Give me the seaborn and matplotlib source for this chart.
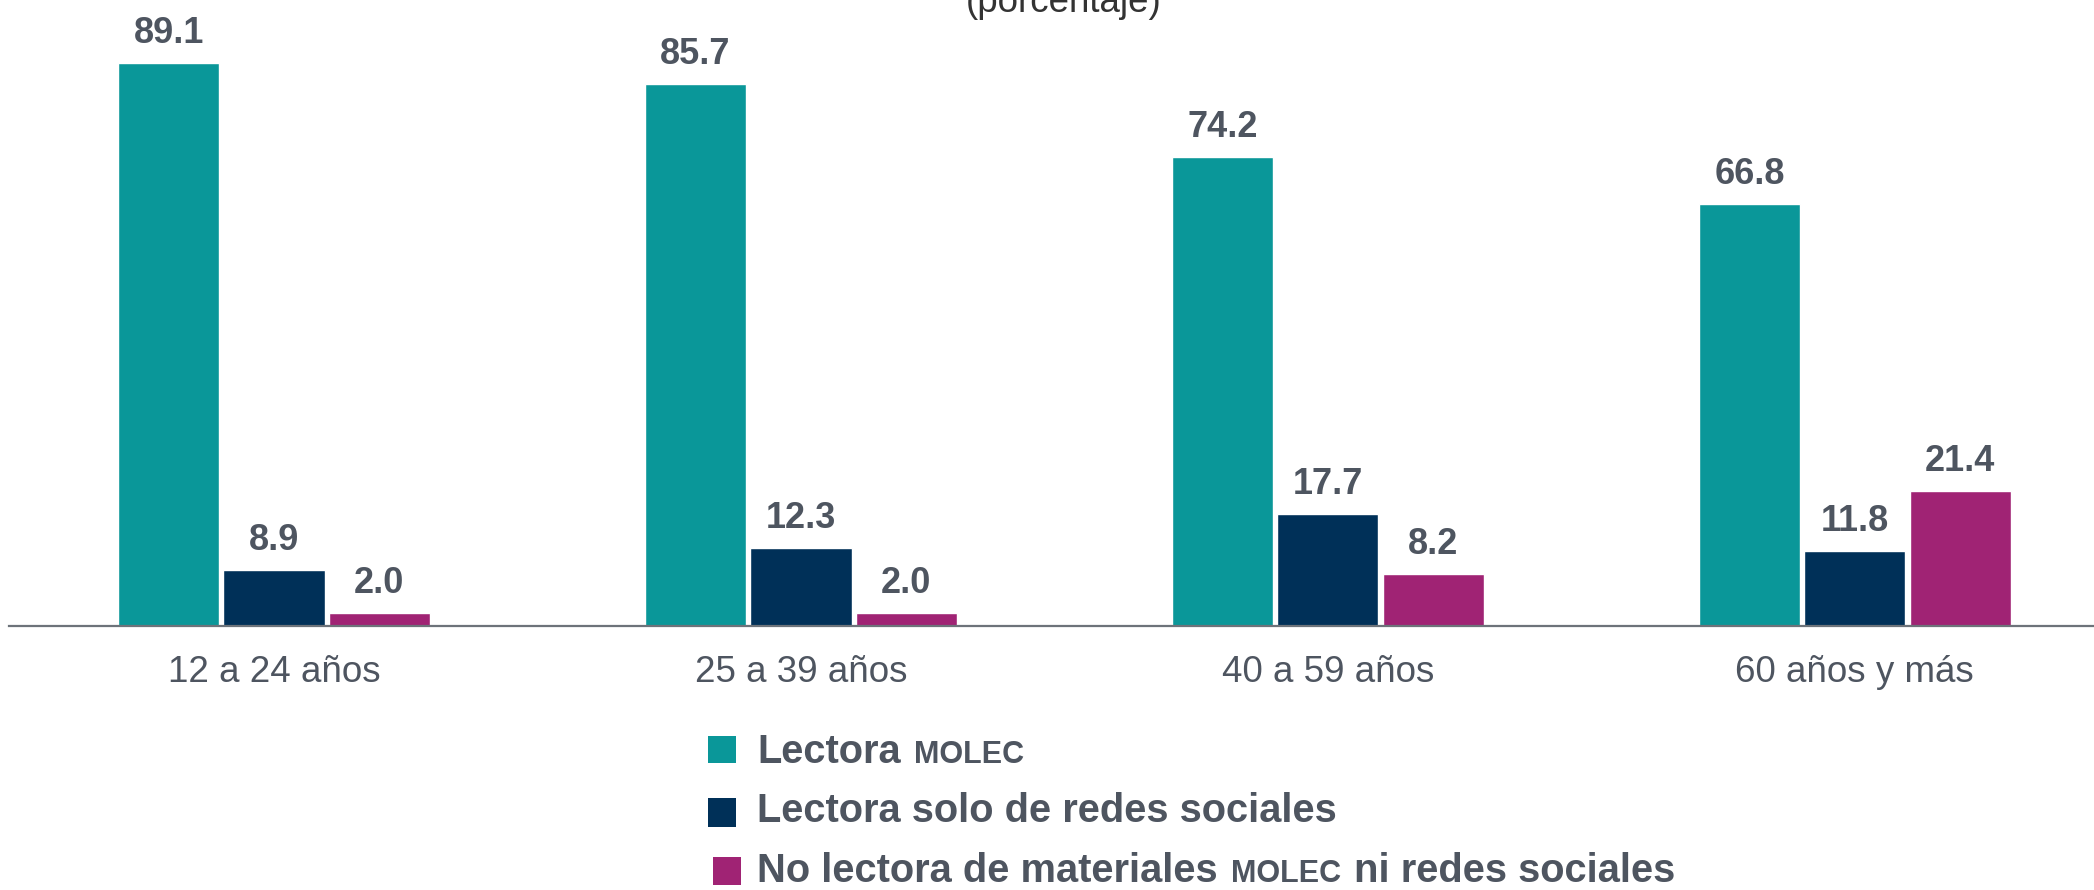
import matplotlib
matplotlib.use("Agg")
import matplotlib.pyplot as plt
import seaborn as sns
import pandas as pd
from matplotlib.patches import Rectangle

# ---------------- data ----------------
categories = ["12 a 24 años", "25 a 39 años", "40 a 59 años", "60 años y más"]
series_names = [
    "Lectora MOLEC",
    "Lectora solo de redes sociales",
    "No lectora de materiales MOLEC ni redes sociales",
]
lectora_molec = [89.1, 85.7, 74.2, 66.8]
solo_redes = [8.9, 12.3, 17.7, 11.8]
no_lectora = [2.0, 2.0, 8.2, 21.4]
colors = ["#0A9799", "#003058", "#A02374"]

# legend rows: (text pieces, small-caps flags)
legend_rows = [
    [("Lectora", False), ("MOLEC", True)],
    [("Lectora solo de redes sociales", False)],
    [("No lectora de materiales", False), ("MOLEC", True), ("ni redes sociales", False)],
]

rows = []
for s, vals in zip(series_names, [lectora_molec, solo_redes, no_lectora]):
    for c, v in zip(categories, vals):
        rows.append({"grupo": c, "serie": s, "pct": v})
df = pd.DataFrame(rows)

# ---------------- figure ----------------
sns.set_theme(style="white")
plt.rcParams["font.family"] = ["Liberation Sans", "DejaVu Sans"]

W, H = 2094, 890
fig = plt.figure(figsize=(W / 100, H / 100), dpi=100)
ax = fig.add_axes([9 / W, 1 - 626 / H, 1 - 9 / W, 626 / H])

sns.barplot(
    data=df, x="grupo", y="pct", hue="serie", hue_order=series_names,
    order=categories, palette=colors, width=0.6, gap=0.04,
    saturation=1, legend=False, ax=ax,
)

ax.set_xlim(-0.503, 3.454)
ax.set_ylim(0, 626 / 6.32)
ax.set_xlabel("")
ax.set_ylabel("")
ax.set_yticks([])
for side in ["left", "right", "top"]:
    ax.spines[side].set_visible(False)
ax.spines["bottom"].set_color("#6D737A")
ax.spines["bottom"].set_linewidth(1.6)
ax.tick_params(axis="x", length=0, pad=21, labelsize=26.5, labelcolor="#4E5560")
ax.patch.set_alpha(0)

label_color = "#4E5560"
for cont in ax.containers:
    for bar in cont:
        h = bar.get_height()
        ax.annotate(
            f"{h:.1f}", (bar.get_x() + bar.get_width() / 2, h),
            xytext=(0, 14.5), textcoords="offset points",
            ha="center", va="baseline", fontsize=26, fontweight="bold",
            color=label_color, clip_on=False,
        )

# title fragment (clipped at the top of the image)
fig.text(1064 / W, 1 - 12 / H, "(porcentaje)", ha="center", va="baseline",
         fontsize=26.5, color="#333333")

# ---------------- legend ----------------
fig.canvas.draw()
renderer = fig.canvas.get_renderer()
baselines = [763, 822, 882]
squares = [(708, 736, 763), (708, 798, 827), (713, 857, 885)]
text_x0 = 757
gap = 13
for i, (row, base) in enumerate(zip(legend_rows, baselines)):
    sx, st, sb = squares[i]
    fig.patches.append(Rectangle((sx / W, 1 - sb / H), 28 / W, (sb - st) / H,
                                 transform=fig.transFigure, facecolor=colors[i],
                                 edgecolor="none", figure=fig))
    x = text_x0
    for txt, small in row:
        t = fig.text(x / W, 1 - base / H, txt, ha="left", va="baseline",
                     fontsize=22 if small else 28.7, fontweight="bold",
                     color=label_color)
        bb = t.get_window_extent(renderer)
        x += bb.width + gap

fig.savefig("out.png", dpi=100)
